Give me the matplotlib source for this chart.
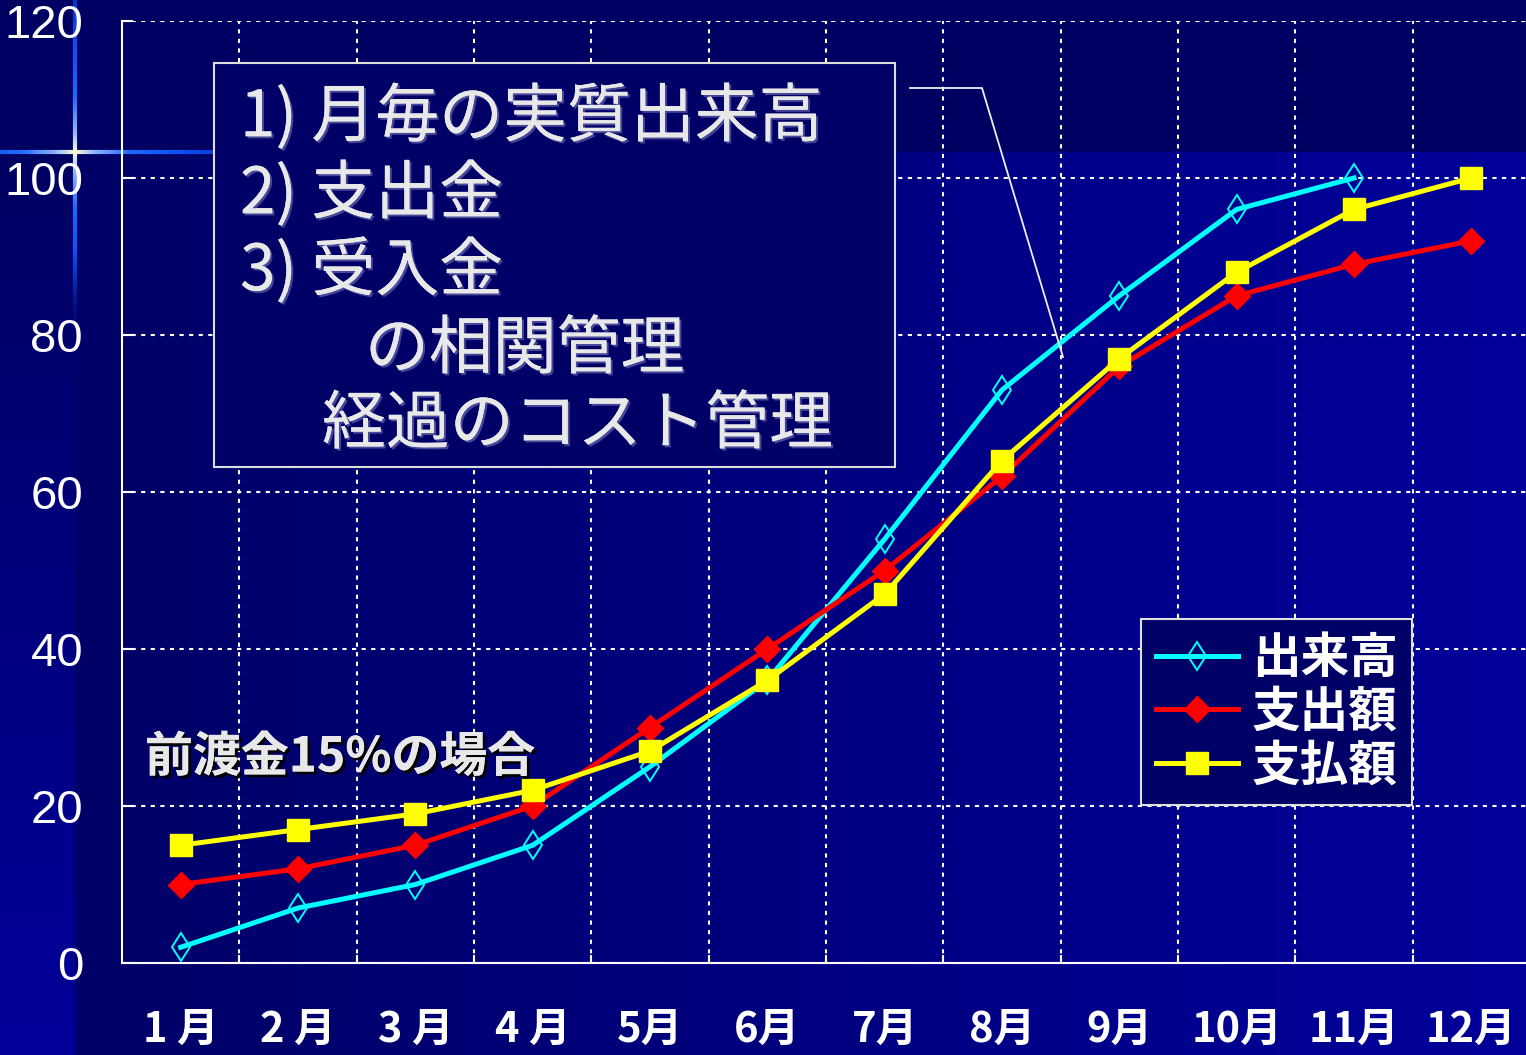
import numpy as np
import matplotlib
matplotlib.use("Agg")
import matplotlib.pyplot as plt
from matplotlib.collections import LineCollection
from matplotlib.patches import Rectangle
from matplotlib.lines import Line2D
import matplotlib.patheffects as pe

plt.rcParams['font.family'] = ['Noto Sans CJK JP', 'DejaVu Sans']

# データ
months = ["1 月", "2 月", "3 月", "4 月", "5月", "6月", "7月", "8月", "9月", "10月", "11月", "12月"]
dekidaka = [2, 7, 10, 15, 25, 36, 54, 73, 85, 96, 100, np.nan]     # 出来高
shishutsu = [10, 12, 15, 20, 30, 40, 50, 62, 76, 85, 89, 92]        # 支出額
shiharai = [15, 17, 19, 22, 27, 36, 47, 64, 77, 88, 96, 100]        # 支払額
series_names = ["出来高", "支出額", "支払額"]
y_ticks = [0, 20, 40, 60, 80, 100, 120]

box_lines = ["1) 月毎の実質出来高", "2) 支出金", "3) 受入金", "の相関管理", "経過のコスト管理"]
note_text = "前渡金15%の場合"

W, H = 1526, 1055
fig = plt.figure(figsize=(W / 100, H / 100), dpi=100)


def fx(x):
    return x / W


def fy(y):
    return 1 - y / H


# --- スライド風の背景 ---
bg = fig.add_axes([0, 0, 1, 1], zorder=-1)
xs = np.arange(W)[None, :]
ys = np.arange(H)[:, None]
blue = 102 + 52 * np.clip((xs - 75) / (W - 75), 0, 1) + 0 * ys
left = 98 + 56 * np.clip((ys - 152) / (H - 152), 0, 1) + 0 * xs
blue = np.where(xs < 75, left, blue)
blue = np.where(ys < 152, 98, blue)
img = np.zeros((H, W, 3))
img[..., 2] = blue / 255
bg.imshow(img, extent=(0, W, H, 0), aspect="auto", interpolation="bilinear")
bg.set_xlim(0, W)
bg.set_ylim(H, 0)
bg.axis("off")


def cross_color(d, fade):
    stops_d = [0, 20, 55, 110, 170]
    r = np.interp(d, stops_d, [1.0, 0.55, 0.12, 0.05, 0.0])
    g = np.interp(d, stops_d, [1.0, 0.70, 0.40, 0.30, 0.18])
    b = np.interp(d, stops_d, [0.85, 1.0, 1.0, 0.95, 0.70])
    a = np.clip(1 - (d - fade) / 80, 0, 1) if fade else 1.0
    return (r, g, b, a)


segs, cols = [], []
for x0 in range(0, 215, 2):
    segs.append([(x0, 152), (x0 + 2, 152)])
    cols.append(cross_color(abs(x0 + 1 - 75), 0))
for y0 in range(0, 330, 2):
    segs.append([(75, y0), (75, y0 + 2)])
    d = abs(y0 + 1 - 152)
    cols.append(cross_color(d, 100 if y0 > 152 else 0))
bg.add_collection(LineCollection(segs, colors=cols, linewidths=3))

# --- メインのグラフ ---
ax = fig.add_axes([fx(122), 1 - 963 / H, (1530 - 122) / W, (963 - 21) / H], zorder=0)
ax.set_facecolor("none")
x = np.arange(len(months))

ax.plot(x, dekidaka, color="#00FFFF", lw=3.6, marker="d", ms=14.5,
        mfc="none", mec="#00FFFF", mew=1.4, label=series_names[0], zorder=3)
ax.plot(x, shishutsu, color="#FF0000", lw=3.6, marker="D", ms=13.5,
        mfc="#FF0000", mec="#FF0000", label=series_names[1], zorder=4)
ax.plot(x, shiharai, color="#FFFF00", lw=3.6, marker="s", ms=16.5,
        mfc="#FFFF00", mec="#FFFF00", label=series_names[2], zorder=5)

ax.set_xlim(-0.5, len(months) - 0.5)
ax.set_ylim(0, 120)
ax.set_yticks(y_ticks)
ax.set_yticklabels([str(v) for v in y_ticks], fontfamily="Liberation Sans",
                   fontsize=34, color="white")
for lab in ax.get_yticklabels():
    lab.set_verticalalignment("center_baseline")
ax.set_xticks(x)
ax.set_xticklabels(months, fontsize=30, fontweight="bold", color="white")
ax.set_xticks(np.arange(len(months) - 1) + 0.5, minor=True)
ax.tick_params(axis="x", which="major", length=0, pad=33)
ax.tick_params(axis="x", which="minor", direction="in", length=6, color="white", width=1.5)
ax.tick_params(axis="y", which="major", direction="in", length=8, color="white",
               width=1.5, pad=28)

grid_style = dict(color="white", lw=1.5, linestyle=(0, (2, 2.6)))
ax.grid(axis="y", which="major", **grid_style)
ax.grid(axis="x", which="minor", **grid_style)
ax.set_axisbelow(True)

for side in ["top", "right"]:
    ax.spines[side].set_visible(False)
for side in ["left", "bottom"]:
    ax.spines[side].set_color("white")
    ax.spines[side].set_linewidth(1.5)

# 凡例
leg = ax.legend(loc="upper left", bbox_to_anchor=(fx(1141), fy(619)),
                bbox_transform=fig.transFigure, frameon=True, fancybox=False,
                facecolor="#000066", edgecolor="#E0E0E0", framealpha=1,
                prop={"size": 35, "weight": "bold"}, labelcolor="white",
                handlelength=1.7, handletextpad=0.28, labelspacing=0.1,
                borderpad=0.3, borderaxespad=0)
leg.get_frame().set_linewidth(1.5)
leg.set_zorder(10)

# テキストボックス
shadow = [pe.withSimplePatchShadow(offset=(1.5, -1.5), shadow_rgbFace="#5050A0", alpha=0.9), pe.Normal()]
box = Rectangle((fx(214), fy(467)), fx(895) - fx(214), fy(63) - fy(467),
                transform=fig.transFigure, facecolor="#000066",
                edgecolor="#DDDDDD", lw=1.5, zorder=8, clip_on=False)
ax.add_patch(box)
line_pos = [(240, 118), (240, 195), (240, 272), (365, 350), (322, 425)]
for txt, (tx, ty) in zip(box_lines, line_pos):
    ax.text(fx(tx), fy(ty), txt, transform=fig.transFigure, fontsize=46,
            color="#E8E8E8", va="center", ha="left", zorder=9,
            path_effects=shadow)

# 引出線
ax.add_line(Line2D([fx(910), fx(982), fx(1063)], [fy(88), fy(88), fy(357)],
                   transform=fig.transFigure, color="#EEEEEE", lw=1.3,
                   zorder=9, clip_on=False))

# 注記
ax.text(fx(145), fy(757), note_text, transform=fig.transFigure, fontsize=34.5,
        fontweight="bold", color="#E8E8E8", va="center", ha="left", zorder=9,
        path_effects=[pe.withSimplePatchShadow(offset=(2, -2), shadow_rgbFace="black", alpha=1), pe.Normal()])

fig.savefig("out.png", dpi=100)
